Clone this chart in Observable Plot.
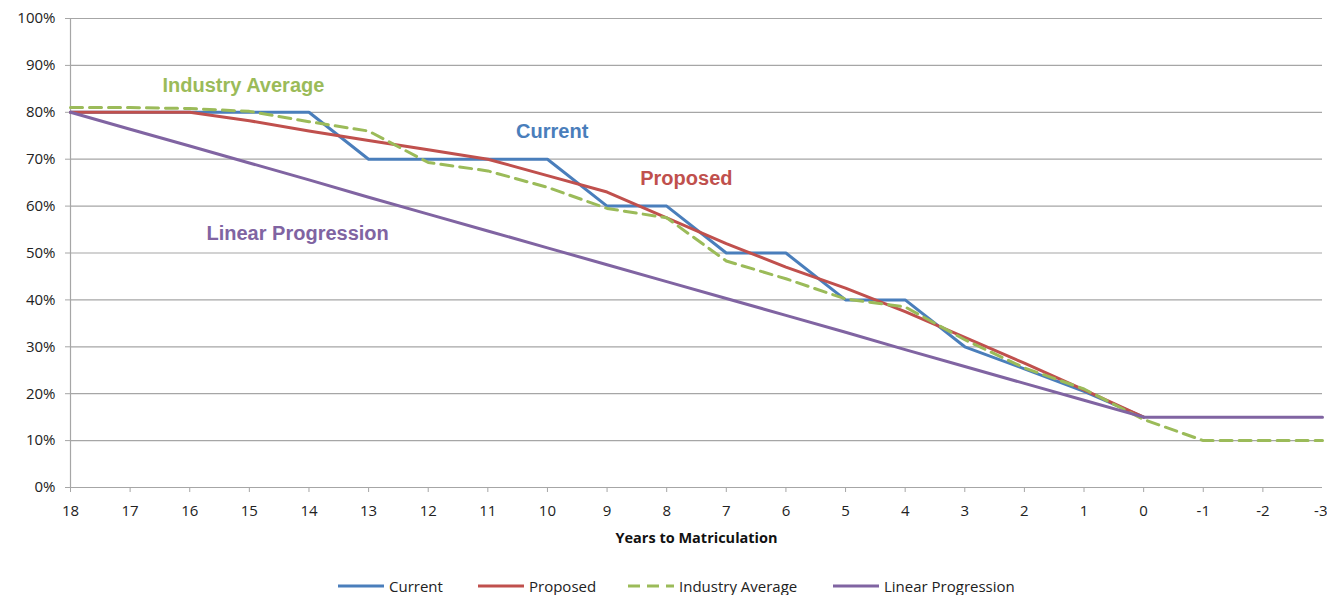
<!DOCTYPE html>
<html><head><meta charset="utf-8">
<script src="https://cdn.jsdelivr.net/npm/d3@7"></script>
<script src="https://cdn.jsdelivr.net/npm/@observablehq/plot@0.6"></script>
<style>
body{margin:0;background:#fff;font-family:"Liberation Sans",Arial,sans-serif;overflow:hidden;}
#chart{position:absolute;left:0;top:0}
#legend{position:absolute;left:0;top:576px;width:1327px;height:22px;font-family:"Open Sans","Liberation Sans",sans-serif;font-size:15px;color:#222;}
.item{position:absolute;top:0;display:flex;align-items:center;white-space:nowrap}
.item svg{margin-right:5px}
</style></head><body>
<div id="chart"></div><div id="legend"></div>
<script>
const years = [18,17,16,15,14,13,12,11,10,9,8,7,6,5,4,3,2,1,0,-1,-2,-3];
const seriesNames = ["Current","Proposed","Industry Average","Linear Progression"];
const seriesColors = ["#4a7ebb","#c0504d","#9bbb59","#8064a2"];
const current  = [80,80,80,80,80,70,70,70,70,60,60,50,50,40,40,30,25.3,20.5,15];
const proposed = [80,80,80,78.2,76,74,72,70,66.5,63,57.5,52,47,42.5,37.5,32,26.5,20.8,15];
const industry = [81,81,80.8,80.2,78,76,69.3,67.5,64,59.5,57.5,48.3,44.5,40.2,38.5,31.5,25.5,21,14.5,10,10,10];
const linear   = [80,76.4,72.8,69.2,65.6,61.9,58.3,54.7,51.1,47.5,43.9,40.3,36.7,33.1,29.4,25.8,22.2,18.6,15,15,15,15];
const yTicks = [0,10,20,30,40,50,60,70,80,90,100];
const xTicks = years;
const xLabel = "Years to Matriculation";
const labelText = ["Current","Proposed","Industry Average","Linear Progression"];
const labelX = [9.92, 7.67, 15.1, 14.19];
const labelY = [75.9, 65.9, 85.7, 54.2];

const allSeries = [current, proposed, industry, linear];
const rows = [];
allSeries.forEach((vals, si) => vals.forEach((v, i) => rows.push({year: years[i], value: v, series: seriesNames[si]})));

const lineMarks = seriesNames.map((name, si) => Plot.line(rows.filter(r => r.series === name), {
  x: "year", y: "value", stroke: seriesColors[si], strokeWidth: 3,
  strokeDasharray: name === "Industry Average" ? "12,7" : null,
  strokeLinejoin: "round", curve: "linear"
}));

const labelMarks = labelText.map((t, i) => Plot.text([{text: t, x: labelX[i], y: labelY[i]}], {
  x: "x", y: "y", text: "text", fill: seriesColors[i], fontSize: 20, fontWeight: "bold",
  fontFamily: "'Liberation Sans',Arial,sans-serif"
}));

const lastTick = xTicks[xTicks.length - 1];
const plot = Plot.plot({
  width: 1327, height: 560,
  marginLeft: 70, marginRight: 5, marginTop: 18, marginBottom: 73,
  style: {fontFamily: "'Open Sans','Liberation Sans',sans-serif", fontSize: "15px", color: "#222", background: "#fff"},
  x: {domain: [18, -3], label: null},
  y: {domain: [0, 100], label: null},
  marks: [
    Plot.ruleY(yTicks, {y: d => d, stroke: "#a6a6a6", strokeWidth: 1.2}),
    Plot.ruleX([18], {x: d => d, stroke: "#a6a6a6", strokeWidth: 1.2}),
    Plot.axisY(yTicks, {tickSize: 5, tickPadding: 10, tickFormat: d => d + "%", stroke: "#a6a6a6", fill: "#222", label: null}),
    Plot.axisX(xTicks.slice(0, -1), {tickSize: 5, tickPadding: 13, tickFormat: d => String(d), stroke: "#a6a6a6", fill: "#222", label: null}),
    Plot.axisX([lastTick], {tickSize: 5, tickPadding: 13, tickFormat: d => String(d), textAnchor: "end", dx: 5, stroke: "#a6a6a6", fill: "#222", label: null}),
    ...lineMarks,
    ...labelMarks,
    Plot.text([xLabel], {frameAnchor: "bottom", dy: 55, text: d => d, fontWeight: "bold", fontSize: 14.5, fill: "#111", fontFamily: "'Open Sans','Liberation Sans',sans-serif"})
  ]
});
document.getElementById("chart").appendChild(plot);

const legendX = [338, 478, 628, 833];
const legend = document.getElementById("legend");
seriesNames.forEach((name, i) => {
  const d = document.createElement("div");
  d.className = "item";
  d.style.left = legendX[i] + "px";
  const dash = name === "Industry Average" ? 'stroke-dasharray="12,7"' : "";
  d.innerHTML = `<svg width="46" height="6"><line x1="0" y1="3" x2="46" y2="3" stroke="${seriesColors[i]}" stroke-width="3" ${dash}/></svg><span>${name}</span>`;
  legend.appendChild(d);
});
</script>
</body></html>
